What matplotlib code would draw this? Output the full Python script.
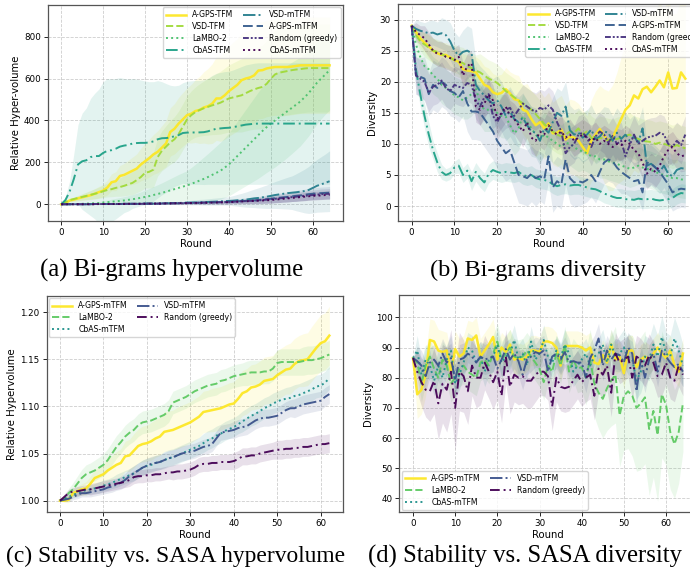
import numpy as np
import matplotlib
matplotlib.use("Agg")
import matplotlib.pyplot as plt
from matplotlib import cm

# ---------------- (a) Bi-grams hypervolume, rounds 0..64
a_names = ["A-GPS-TFM", "VSD-TFM", "LaMBO-2", "CbAS-TFM",
           "VSD-mTFM", "A-GPS-mTFM", "Random (greedy)", "CbAS-mTFM"]
a_agps_tfm = [0, 5, 18, 22, 28, 33, 38, 43, 50, 58,
              65, 80, 105, 110, 135, 140, 150, 160, 170, 190,
              205, 220, 238, 250, 270, 290, 345, 360, 385, 405,
              425, 432, 445, 450, 462, 468, 480, 505, 505, 520,
              540, 555, 570, 592, 600, 605, 615, 638, 640, 648,
              652, 655, 655, 655, 655, 657, 660, 663, 663, 663,
              663, 663, 663, 663, 663]
a_vsd_tfm = [0, 10, 20, 25, 30, 35, 40, 45, 50, 55,
             62, 68, 72, 78, 82, 88, 95, 102, 115, 130,
             150, 155, 165, 225, 255, 275, 295, 310, 335, 370,
             405, 425, 440, 450, 458, 465, 472, 478, 485, 495,
             505, 510, 515, 520, 530, 540, 548, 555, 560, 575,
             600, 620, 628, 632, 636, 640, 643, 645, 648, 650,
             650, 650, 650, 650, 650]
a_lambo = [0, 0, 0, 1, 1, 2, 3, 4, 5, 6,
           8, 10, 12, 14, 16, 18, 21, 24, 27, 31,
           35, 39, 44, 49, 54, 60, 66, 72, 78, 84,
           90, 97, 105, 113, 121, 130, 140, 150, 160, 175,
           190, 210, 230, 250, 270, 290, 310, 330, 350, 368,
           385, 400, 415, 430, 445, 460, 475, 490, 510, 530,
           555, 580, 600, 620, 640]
a_cbas_tfm = [0, 20, 60, 120, 190, 205, 210, 225, 230, 230,
              245, 255, 258, 265, 275, 280, 283, 290, 292, 293,
              293, 295, 300, 310, 315, 316, 318, 325, 330, 340,
              342, 342, 343, 343, 344, 348, 355, 360, 362, 364,
              365, 368, 372, 376, 380, 382, 384, 385, 385, 385,
              385, 385, 385, 385, 385, 385, 385, 385, 385, 385,
              385, 385, 385, 385, 385]
a_vsd_mtfm = [0, 0, 0, 0, 0, 0, 0, 1, 1, 1,
              1, 1, 1, 1, 2, 2, 2, 2, 2, 3,
              3, 3, 3, 4, 4, 5, 5, 6, 6, 7,
              8, 8, 9, 10, 10, 11, 12, 13, 14, 15,
              16, 17, 19, 20, 22, 25, 28, 30, 33, 36,
              40, 44, 47, 50, 53, 55, 57, 60, 63, 68,
              78, 88, 95, 102, 110]
a_agps_mtfm = [0, 0, 0, 0, 0, 0, 0, 0, 1, 1,
               1, 1, 1, 1, 1, 2, 2, 2, 2, 2,
               3, 3, 3, 3, 4, 4, 5, 5, 5, 6,
               6, 7, 7, 8, 8, 9, 9, 10, 10, 11,
               12, 13, 14, 15, 16, 17, 18, 20, 22, 24,
               26, 29, 31, 33, 35, 38, 40, 42, 45, 48,
               50, 52, 53, 54, 55]
a_random = [0, 0, 0, 0, 0, 0, 0, 0, 1, 1,
            1, 1, 1, 1, 1, 2, 2, 2, 2, 2,
            3, 3, 3, 3, 4, 4, 4, 5, 5, 5,
            6, 6, 7, 7, 8, 8, 9, 9, 10, 10,
            11, 12, 13, 14, 15, 16, 17, 18, 20, 22,
            24, 26, 28, 30, 32, 34, 36, 38, 40, 42,
            44, 46, 48, 49, 50]
a_cbas_mtfm = [0, 0, 0, 0, 0, 0, 0, 0, 0, 1,
               1, 1, 1, 1, 1, 1, 2, 2, 2, 2,
               2, 3, 3, 3, 3, 4, 4, 4, 5, 5,
               5, 6, 6, 6, 7, 7, 8, 8, 9, 9,
               10, 11, 12, 13, 14, 15, 16, 17, 18, 19,
               20, 22, 24, 26, 28, 30, 32, 34, 36, 38,
               40, 41, 42, 44, 45]
a_sd = [
    [0, 3, 6, 9, 12, 15, 18, 21, 24, 27,
     30, 35, 40, 45, 50, 55, 60, 65, 70, 78,
     85, 90, 95, 100, 105, 110, 115, 120, 125, 128,
     130, 140, 150, 160, 170, 180, 190, 200, 205, 210,
     215, 218, 220, 222, 224, 226, 228, 230, 230, 230,
     230, 230, 230, 230, 230, 230, 230, 230, 230, 230,
     230, 230, 230, 230, 230],
    [0, 3, 6, 9, 12, 15, 18, 21, 24, 27,
     30, 33, 36, 40, 44, 48, 52, 56, 60, 66,
     72, 78, 84, 90, 95, 100, 104, 108, 110, 110,
     112, 116, 120, 125, 130, 135, 140, 145, 150, 155,
     160, 165, 170, 175, 180, 185, 190, 195, 200, 205,
     208, 210, 210, 210, 210, 210, 210, 210, 210, 210,
     210, 210, 210, 210, 210],
    [0, 0, 1, 1, 2, 3, 4, 5, 6, 7,
     8, 10, 12, 14, 16, 18, 20, 22, 25, 28,
     32, 36, 40, 44, 48, 52, 56, 60, 64, 67,
     70, 78, 86, 95, 104, 112, 120, 128, 136, 143,
     150, 158, 166, 174, 182, 190, 198, 206, 212, 216,
     220, 222, 222, 222, 220, 218, 215, 212, 208, 204,
     200, 196, 192, 190, 190],
    [0, 15, 50, 120, 190, 230, 250, 280, 300, 320,
     340, 345, 340, 335, 330, 320, 315, 310, 305, 300,
     295, 290, 285, 280, 270, 260, 250, 240, 238, 240,
     245, 247, 248, 248, 250, 253, 260, 265, 267, 269,
     270, 273, 277, 281, 285, 287, 289, 290, 290, 290,
     290, 290, 290, 290, 290, 290, 290, 290, 290, 290,
     290, 290, 290, 290, 290],
    [0, 0, 0, 0, 0, 0, 0, 1, 1, 1,
     1, 1, 1, 1, 2, 2, 2, 2, 2, 3,
     3, 3, 3, 4, 4, 5, 6, 7, 8, 9,
     10, 11, 12, 13, 14, 15, 16, 17, 18, 19,
     20, 24, 28, 32, 36, 40, 44, 48, 52, 56,
     60, 64, 68, 72, 76, 80, 88, 96, 104, 112,
     120, 126, 132, 138, 145],
    [0, 0, 0, 0, 0, 0, 0, 0, 1, 1,
     1, 1, 1, 1, 1, 2, 2, 2, 2, 2,
     2, 3, 3, 3, 3, 4, 4, 4, 5, 5,
     5, 6, 6, 6, 7, 7, 8, 8, 9, 9,
     10, 11, 12, 13, 14, 15, 16, 17, 18, 19,
     20, 21, 22, 23, 24, 25, 26, 26, 27, 27,
     28, 28, 29, 29, 30],
    [0, 0, 0, 0, 0, 0, 0, 0, 1, 1,
     1, 1, 1, 1, 1, 1, 2, 2, 2, 2,
     2, 2, 3, 3, 3, 3, 3, 4, 4, 4,
     5, 5, 5, 6, 6, 6, 7, 7, 8, 8,
     9, 9, 10, 11, 12, 13, 14, 15, 16, 17,
     18, 19, 20, 20, 21, 21, 22, 22, 23, 23,
     24, 24, 25, 25, 25],
    [0, 0, 0, 0, 0, 0, 0, 0, 0, 1,
     1, 1, 1, 1, 1, 1, 1, 1, 2, 2,
     2, 2, 2, 2, 3, 3, 3, 3, 3, 4,
     4, 4, 5, 5, 5, 6, 6, 6, 7, 7,
     8, 8, 9, 9, 10, 11, 12, 12, 13, 14,
     15, 15, 16, 16, 17, 17, 18, 18, 19, 19,
     19, 20, 20, 20, 20],
]

# ---------------- (b) Bi-grams diversity, rounds 0..64
b_agps_tfm = [29, 28, 27, 26.3, 25.7, 25, 24.6, 24.3, 24.3, 23.9,
              23.5, 23.2, 22, 21.8, 21.7, 21.5, 20.5, 19.5, 19.2, 18.3,
              18, 18.2, 18.8, 18.1, 17.2, 17, 15.5, 15.2, 14, 13,
              13.5, 12.5, 13.3, 11.7, 11.8, 12.3, 10.7, 11.2, 11, 10.5,
              9.5, 8.5, 10.5, 11.5, 12.4, 11.3, 10.5, 11, 12.5, 14,
              15.5, 16.2, 17.8, 17.3, 18.8, 19.2, 18.3, 19.2, 20.2, 19.1,
              21.5, 18.9, 19, 21.5, 20.5]
b_vsd_tfm = [29, 27.5, 26.5, 26, 25.5, 25, 24.8, 24.5, 24, 23.8,
             23.5, 23.2, 23, 22.5, 22.2, 21.8, 21.5, 21, 20.5, 20.2,
             19.8, 19.2, 18.5, 18, 17.5, 17, 16.5, 16, 15.5, 14.8,
             14, 13.2, 12.5, 12, 11.5, 11.2, 11.5, 12, 11.8, 12.5,
             11.5, 12, 11, 10.5, 11, 10.8, 10.6, 10.5, 10.8, 11,
             11.3, 11.5, 11, 10.8, 10.5, 10.4, 10.3, 10, 10.2, 10,
             9.8, 9.5, 9.8, 9.5, 9.3]
b_lambo = [29, 26, 24, 22.5, 22, 21, 20.5, 19.5, 19, 18.5,
           17.8, 17.5, 17, 17.5, 18, 19, 16.5, 15.5, 15.5, 15.5,
           15, 14.5, 14.4, 13, 11.7, 12.5, 14.5, 13.5, 12.5, 11.5,
           10.7, 11.5, 11, 10.5, 10, 9.5, 10.2, 10, 9.5, 9,
           8.8, 8.5, 8, 8, 7.5, 7.5, 7.2, 7, 6.8, 6.5,
           6.3, 6, 6.2, 6.5, 6.2, 6, 5.8, 5.5, 5.2, 5,
           4.8, 4.5, 4.5, 4.3, 4.2]
b_cbas_tfm = [29, 22, 18, 14.5, 11.5, 9, 7, 5.5, 5, 5.3,
              6.2, 6.5, 5, 5.7, 4, 5.5, 4.5, 3.8, 5.2, 5.8,
              5.5, 5.3, 5.5, 5.4, 5.3, 5.5, 5, 4.8, 5, 4.5,
              4.3, 4.2, 4, 3.5, 3.2, 3.4, 3.5, 3.3, 3.4, 3.4,
              3.2, 3, 2.8, 2.7, 2.4, 2, 1.8, 1.5, 1.3, 1.3,
              1.1, 1.1, 1, 1.2, 1.1, 1.1, 1.2, 1, 0.9, 1,
              1.1, 1.3, 1.8, 2.1, 2]
b_vsd_mtfm = [29, 28.5, 28.2, 28, 27.8, 27.9, 27.6, 27.8, 27.5, 26.5,
              25, 24.2, 24.8, 25, 24.6, 19.5, 18.5, 17.8, 17, 16.5,
              17, 16, 14.5, 15.2, 14, 13.5, 14.2, 13, 12, 11.8,
              10.5, 12.5, 11.8, 13.5, 15, 14.5, 16, 12.2, 11.5, 11.8,
              11, 11.5, 12.3, 10.8, 11.2, 12, 11.8, 10.5, 11.8, 10.8,
              11.5, 10.5, 11.2, 10.2, 12.5, 6.5, 6.8, 6.2, 5.5, 6.5,
              5.2, 4.8, 5.8, 6.1, 6]
b_agps_mtfm = [29, 21, 20.8, 20.5, 18, 19.5, 19, 20, 19.5, 18.5,
               18.2, 17.5, 18.5, 16.5, 15.2, 15.2, 15, 14, 13, 12,
               10.5, 9.5, 8.5, 9, 7, 5, 4.8, 4.5, 5.2, 4.5,
               4.8, 4.3, 8, 3, 4, 3.5, 7.5, 4.5, 3.8, 4,
               3.8, 4.2, 5, 4, 5.5, 7, 7.5, 7.2, 6.2, 5.5,
               5, 4.5, 4, 4.2, 2.2, 7, 6.8, 6.2, 5.5, 4.5,
               3.5, 2.2, 2.6, 2.8, 2.7]
b_random = [29, 21, 20.5, 20, 18.2, 19.2, 19.5, 20.2, 19, 18.5,
            19.5, 19.2, 19, 19.8, 19.5, 17, 16, 17.5, 18, 14.5,
            13.5, 14.8, 15.5, 15.8, 14.5, 15.5, 16.5, 16, 15.5, 15.2,
            15.8, 15.5, 16.2, 15.5, 13.5, 12, 8.5, 9.5, 10, 11.5,
            11.8, 11, 9.5, 11.2, 12, 11.5, 10.2, 11.3, 10, 10.5,
            8, 9.8, 11.5, 10, 10.5, 11, 11.2, 11.3, 11.8, 11.5,
            10, 9.5, 10.5, 9.8, 11.5]
b_cbas_mtfm = [29, 28, 27.5, 27, 26, 25, 24.5, 24.5, 24, 23.8,
               23.5, 24, 21, 22.5, 23, 16, 15.5, 16.5, 18, 17,
               14, 15, 16, 14.5, 14, 13, 12, 13.5, 11, 10.5,
               12, 11.5, 13, 12, 11.5, 12, 11, 11.5, 10.5, 11,
               11.5, 11, 10.5, 11, 10, 10.5, 10, 9.5, 10, 9.8,
               10.5, 10, 9, 8.5, 7, 5.2, 6, 5.5, 6.5, 8,
               9, 9.5, 8.5, 8, 8.2]
b_sd = [
    [0, 1, 1.5, 1.5, 2, 2, 2, 2, 2, 2,
     2, 2, 2.5, 2.5, 2.5, 2.5, 3, 3, 3, 3,
     3, 3, 3.5, 3.5, 4, 4, 4, 4.5, 4.5, 5,
     5, 5, 5, 5, 5.5, 5.5, 5.5, 6, 6, 6,
     6, 6, 6.5, 7, 7, 7.5, 8, 8.5, 9, 10,
     11, 11.5, 12, 12, 12.5, 12.5, 12.5, 12.5, 12.5, 12.5,
     12, 12, 12, 12, 12],
    [0, 1, 1.5, 2, 2, 2, 2, 2, 2, 2,
     2.5, 2.5, 2.5, 2.5, 2.5, 2.5, 3, 3, 3, 3,
     3, 3, 3, 3, 3, 3, 3, 3, 3, 3,
     3, 3, 3, 3, 3, 3, 3, 3, 3, 3,
     3.5, 3.5, 3.5, 3.5, 3.5, 3.5, 3.5, 3.5, 3.5, 3.5,
     3.5, 3.5, 3.5, 3.5, 3.5, 3.5, 3.5, 3.5, 3.5, 3.5,
     3.5, 3.5, 3.5, 3.5, 3.5],
    [0, 2, 3, 3, 3, 3, 3, 3, 3, 3,
     3, 3, 3, 3.5, 3.5, 3.5, 3.5, 3.5, 3.5, 3.5,
     3.5, 3.5, 3.5, 3.5, 3.5, 3.5, 3.5, 3.5, 3.5, 3.5,
     3.5, 3.5, 3.5, 3.5, 3.5, 3.5, 3.5, 3.5, 3.5, 3.5,
     3, 3, 3, 3, 3, 3, 3, 3, 3, 3,
     3, 3, 3, 3, 3, 3, 3, 3, 3, 3,
     3, 3, 3, 3, 3],
    [0, 2, 2, 2, 2, 1.5, 1.5, 1.2, 1, 1,
     1, 1.2, 1.2, 1.2, 1.5, 1.5, 1.5, 1.5, 1.5, 1.5,
     1.5, 1.5, 1.5, 1.5, 1.5, 1.5, 1.5, 1.5, 1.5, 1.5,
     1.5, 1.5, 1.5, 1.5, 1.5, 1.5, 1.5, 1.5, 1.5, 1.5,
     1.5, 1.5, 1.5, 1.5, 1.5, 1.5, 1.5, 1.5, 1.5, 1.5,
     1.5, 1.5, 1.5, 1.5, 1.5, 1.5, 1.5, 1.5, 1.5, 1.5,
     1.5, 1.5, 1.5, 1.5, 1.5],
    [0, 1.5, 1.5, 1.5, 2, 2, 2, 2.5, 2.5, 3,
     3, 3, 3.5, 4, 4, 4, 4, 4, 4, 4,
     4, 4, 4, 4, 4, 4, 4, 4, 4, 4,
     4, 4, 4, 4, 4, 4, 4, 4, 4, 4,
     4, 4, 4, 4, 4, 4, 4, 4, 4, 4,
     3.5, 3.5, 3.5, 3.5, 3.5, 3.5, 3.5, 3.5, 3.5, 3.5,
     3.5, 3.5, 3.5, 3.5, 3.5],
    [0, 3, 3, 3.5, 3.5, 4, 4, 4, 4, 4,
     4, 4, 4, 4.5, 4.5, 4.5, 4.5, 4.5, 4.5, 4.5,
     4.5, 4.5, 4.5, 4.5, 4.5, 4.5, 4.5, 4.5, 4.5, 4.5,
     4, 4, 4, 4, 4, 4, 4, 4, 4, 4,
     3.5, 3.5, 3.5, 3.5, 3.5, 3.5, 3.5, 3.5, 3.5, 3.5,
     3, 3, 3, 3, 3, 3, 3, 3, 3, 3,
     3, 3, 3, 3, 3],
    [0, 3, 3, 3, 3, 3, 3, 3, 3, 3,
     3, 3, 3, 3, 3, 3, 3, 3, 3, 3,
     3, 3, 3, 3, 3, 3, 3, 3, 3, 3,
     3, 3, 3, 3, 3, 3, 3, 3, 3, 3,
     3, 3, 3, 3, 3, 3, 3, 3, 3, 3,
     3, 3, 3, 3, 3, 3, 3, 3, 3, 3,
     3, 3, 3, 3, 3],
    [0, 1.5, 1.5, 2, 2, 2, 2, 2, 2, 2,
     2, 2, 2, 2, 2, 2.5, 2.5, 2.5, 2.5, 2.5,
     2.5, 2.5, 2.5, 2.5, 2.5, 2.5, 2.5, 2.5, 2.5, 2.5,
     2.5, 2.5, 2.5, 2.5, 2.5, 2.5, 2.5, 2.5, 2.5, 2.5,
     2.5, 2.5, 2.5, 2.5, 2.5, 2.5, 2.5, 2.5, 2.5, 2.5,
     2.5, 2.5, 2.5, 2.5, 2.5, 2.5, 2.5, 2.5, 2.5, 2.5,
     2.5, 2.5, 2.5, 2.5, 2.5],
]

# ---------------- (c) Stability vs. SASA hypervolume, rounds 0..62
c_names = ["A-GPS-mTFM", "LaMBO-2", "CbAS-mTFM", "VSD-mTFM", "Random (greedy)"]
c_agps = [1.000, 1.000, 1.001, 1.008, 1.010, 1.012, 1.013, 1.018, 1.024, 1.026,
          1.028, 1.032, 1.035, 1.038, 1.040, 1.047, 1.048, 1.053, 1.058, 1.060,
          1.061, 1.063, 1.066, 1.068, 1.073, 1.074, 1.075, 1.077, 1.079, 1.081,
          1.083, 1.086, 1.089, 1.094, 1.095, 1.096, 1.097, 1.098, 1.100, 1.102,
          1.103, 1.108, 1.114, 1.116, 1.120, 1.121, 1.123, 1.127, 1.128, 1.129,
          1.133, 1.136, 1.139, 1.140, 1.145, 1.148, 1.149, 1.150, 1.156, 1.162,
          1.167, 1.169, 1.175]
c_lambo = [1.000, 1.002, 1.008, 1.012, 1.018, 1.024, 1.028, 1.030, 1.032, 1.035,
           1.038, 1.043, 1.050, 1.057, 1.062, 1.068, 1.072, 1.075, 1.080, 1.083,
           1.084, 1.085, 1.087, 1.089, 1.091, 1.095, 1.104, 1.106, 1.108, 1.110,
           1.113, 1.116, 1.118, 1.120, 1.122, 1.123, 1.124, 1.127, 1.128, 1.130,
           1.132, 1.133, 1.134, 1.135, 1.136, 1.136, 1.136, 1.137, 1.137, 1.140,
           1.146, 1.147, 1.147, 1.147, 1.147, 1.147, 1.148, 1.149, 1.149, 1.150,
           1.151, 1.153, 1.155]
c_cbas = [1.000, 1.002, 1.004, 1.006, 1.008, 1.010, 1.011, 1.012, 1.013, 1.014,
          1.016, 1.017, 1.019, 1.021, 1.023, 1.025, 1.027, 1.029, 1.032, 1.035,
          1.037, 1.038, 1.040, 1.041, 1.043, 1.045, 1.046, 1.048, 1.050, 1.052,
          1.054, 1.056, 1.058, 1.061, 1.064, 1.066, 1.069, 1.071, 1.074, 1.076,
          1.078, 1.081, 1.084, 1.087, 1.090, 1.092, 1.095, 1.098, 1.100, 1.103,
          1.105, 1.107, 1.108, 1.109, 1.111, 1.112, 1.114, 1.116, 1.118, 1.121,
          1.122, 1.125, 1.130]
c_vsd = [1.000, 1.001, 1.002, 1.004, 1.006, 1.008, 1.008, 1.009, 1.010, 1.011,
         1.012, 1.014, 1.015, 1.017, 1.019, 1.022, 1.026, 1.029, 1.032, 1.035,
         1.037, 1.039, 1.040, 1.041, 1.043, 1.045, 1.046, 1.048, 1.050, 1.051,
         1.052, 1.053, 1.055, 1.057, 1.058, 1.060, 1.066, 1.072, 1.073, 1.074,
         1.075, 1.077, 1.078, 1.079, 1.082, 1.085, 1.087, 1.088, 1.088, 1.089,
         1.090, 1.093, 1.096, 1.098, 1.098, 1.100, 1.102, 1.103, 1.104, 1.105,
         1.106, 1.110, 1.113]
c_random = [1.000, 1.004, 1.008, 1.010, 1.010, 1.011, 1.012, 1.012, 1.013, 1.014,
            1.015, 1.016, 1.017, 1.018, 1.019, 1.020, 1.022, 1.025, 1.026, 1.026,
            1.027, 1.027, 1.028, 1.028, 1.029, 1.030, 1.030, 1.031, 1.031, 1.032,
            1.033, 1.035, 1.038, 1.039, 1.039, 1.040, 1.040, 1.041, 1.041, 1.041,
            1.042, 1.044, 1.047, 1.047, 1.048, 1.048, 1.050, 1.051, 1.052, 1.053,
            1.054, 1.054, 1.055, 1.055, 1.056, 1.056, 1.057, 1.057, 1.058, 1.059,
            1.060, 1.060, 1.061]
c_sd = [
    [0, .002, .003, .004, .005, .006, .007, .008, .009, .010,
     .011, .012, .013, .014, .015, .016, .017, .018, .018, .019,
     .019, .020, .020, .020, .021, .021, .021, .022, .022, .022,
     .022, .022, .022, .022, .022, .023, .023, .023, .023, .023,
     .023, .023, .024, .024, .024, .024, .025, .025, .025, .025,
     .026, .026, .026, .027, .027, .027, .028, .028, .029, .029,
     .030, .030, .031],
    [0, .003, .005, .007, .008, .009, .010, .010, .011, .011,
     .012, .012, .012, .012, .012, .012, .012, .012, .012, .012,
     .012, .012, .012, .012, .012, .012, .012, .012, .012, .012,
     .012, .012, .012, .012, .012, .012, .012, .012, .012, .012,
     .012, .012, .012, .013, .013, .013, .013, .013, .013, .013,
     .014, .014, .014, .014, .014, .014, .015, .015, .015, .015,
     .015, .015, .015],
    [0, .002, .003, .003, .004, .004, .005, .005, .005, .006,
     .006, .006, .006, .007, .007, .007, .007, .008, .008, .008,
     .008, .008, .008, .008, .009, .009, .009, .009, .009, .009,
     .009, .009, .009, .010, .010, .010, .010, .010, .010, .010,
     .010, .010, .011, .011, .011, .011, .011, .011, .011, .011,
     .011, .011, .012, .012, .012, .012, .012, .012, .012, .012,
     .012, .012, .012],
    [0, .002, .003, .003, .004, .004, .004, .005, .005, .005,
     .005, .006, .006, .006, .007, .007, .008, .008, .008, .008,
     .008, .008, .008, .008, .008, .008, .008, .008, .008, .008,
     .008, .008, .008, .008, .008, .008, .008, .008, .008, .008,
     .009, .009, .009, .009, .009, .009, .009, .009, .009, .009,
     .009, .009, .009, .009, .010, .010, .010, .010, .010, .010,
     .010, .010, .010],
    [0, .003, .004, .004, .005, .005, .005, .006, .006, .006,
     .006, .006, .006, .006, .006, .006, .007, .007, .007, .007,
     .007, .007, .007, .007, .007, .007, .008, .008, .008, .008,
     .008, .008, .008, .008, .008, .008, .008, .008, .008, .008,
     .009, .009, .009, .009, .009, .009, .009, .009, .009, .009,
     .010, .010, .010, .010, .010, .010, .010, .010, .010, .010,
     .010, .010, .010],
]

# ---------------- (d) Stability vs. SASA diversity, rounds 0..64
d_agps = [86.5, 74.5, 76, 81, 92.5, 92, 89, 88.5, 89, 82,
          89.5, 87, 88, 93, 92.5, 94, 87, 89, 91, 93.5,
          86, 90, 88.5, 91, 86, 86.5, 86, 87, 89, 89,
          88.5, 92, 92, 91.5, 90, 84, 90.5, 90.5, 90.5, 90.5,
          90, 89, 90, 85, 84.5, 87.5, 85, 91, 86, 87,
          81.5, 89, 89, 83.5, 86, 87, 86, 88, 90, 88,
          86.5, 89, 84, 82, 88]
d_lambo = [86.5, 85, 78, 84, 87, 83, 80, 86, 84, 78,
           80, 83, 84, 82, 81, 80, 85, 86, 84, 88,
           92, 86, 88, 90, 87, 86.5, 87, 89, 87, 85,
           83, 78.5, 84, 82, 88, 84, 91, 82, 86, 83,
           83.5, 80, 86, 78, 75, 73, 76.5, 79, 81, 67.5,
           74, 75.5, 74, 70, 71.5, 73.5, 63, 69, 61, 74.5,
           71, 62, 58, 62, 71.5]
d_cbas = [86.5, 89, 81, 86, 84, 79, 84, 80, 86, 89,
          78, 81, 85, 90, 89, 85, 87, 82, 86, 87,
          91, 85, 87, 88, 92.5, 86, 88, 84, 92, 86,
          88, 92.5, 87, 85, 89, 86.5, 91, 88, 82, 84,
          86, 88, 84, 87, 88, 91, 85, 91, 87, 88,
          90, 87, 86, 79, 82, 87, 86, 91, 87, 93.5,
          88, 87, 93, 89, 84]
d_vsd = [86.5, 85.5, 84, 80.5, 85, 86, 84, 88, 85, 86.5,
         79, 86, 86.5, 88, 87, 85, 87, 86, 86.5, 87,
         83, 86, 89.5, 86, 88, 85.5, 81, 86, 87, 88.5,
         88, 89, 82, 87, 88, 86, 88.5, 85, 85.5, 85,
         85, 80, 86.5, 89, 93, 84, 89, 86, 88, 87.5,
         85, 90, 88, 75.5, 86, 80, 86, 88, 82, 89,
         87, 85, 83.5, 84.5, 82]
d_random = [86.5, 82, 78.5, 76, 75.5, 79, 71.5, 78, 76, 82,
            70, 82, 80.5, 75.5, 84, 80, 80, 85, 82, 78.5,
            82, 74, 87, 77, 81, 80, 80.5, 79, 79, 81,
            82, 82, 80.5, 70.5, 80, 77, 76.5, 77, 79, 81,
            78.5, 80, 81, 74, 83, 81, 84, 75, 88, 85,
            86, 87, 80, 87, 86, 84, 87.5, 85, 80.5, 81,
            85, 80, 79, 84, 81]
d_sd = [
    [0, 8, 8, 7, 7, 7, 7, 7, 6, 6,
     6, 6, 6, 6, 6, 6, 6, 6, 6, 6,
     5, 5, 5, 5, 5, 5, 5, 5, 5, 5,
     5, 5, 5, 5, 5, 5, 5, 5, 5, 5,
     5, 5, 5, 5, 5, 5, 5, 5, 5, 5,
     5, 5, 5, 5, 5, 5, 5, 5, 5, 5,
     5, 5, 5, 5, 5],
    [0, 5, 6, 6, 6, 6, 6, 6, 6, 6,
     6, 6, 6, 6, 6, 6, 6, 6, 6, 6,
     6, 6, 6, 6, 6, 6, 6, 6, 6, 6,
     6, 6, 6, 6, 6, 6, 6, 7, 7, 8,
     8, 9, 10, 11, 12, 13, 14, 15, 16, 17,
     18, 19, 20, 21, 22, 22, 22, 22, 22, 21,
     20, 19, 18, 17, 16],
    [0, 5, 5, 5, 5, 5, 5, 5, 5, 5,
     5, 5, 5, 5, 5, 5, 5, 5, 5, 5,
     5, 5, 5, 5, 5, 5, 5, 5, 5, 5,
     5, 5, 5, 5, 5, 5, 5, 5, 5, 5,
     5, 5, 5, 5, 5, 5, 5, 5, 5, 6,
     6, 6, 6, 6, 7, 7, 7, 7, 7, 7,
     7, 7, 7, 7, 7],
    [0, 5, 5, 5, 5, 5, 5, 5, 5, 5,
     5, 5, 5, 5, 5, 5, 5, 5, 5, 5,
     5, 5, 5, 5, 5, 5, 5, 5, 5, 5,
     5, 5, 5, 5, 5, 5, 5, 5, 5, 5,
     5, 5, 5, 5, 5, 5, 5, 5, 5, 5,
     5, 5, 5, 5, 5, 5, 5, 5, 5, 5,
     5, 5, 5, 5, 5],
    [0, 7, 8, 9, 10, 11, 12, 13, 14, 14,
     14, 13, 12, 11, 10, 10, 9, 9, 9, 9,
     9, 9, 9, 9, 9, 9, 9, 9, 9, 9,
     8, 8, 8, 8, 8, 8, 8, 8, 8, 8,
     8, 8, 8, 8, 8, 8, 8, 8, 7, 7,
     7, 7, 7, 7, 7, 7, 7, 7, 7, 7,
     7, 7, 7, 7, 7],
]

# styles (viridis, A-GPS first = yellow)
styles8 = ["-", "--", ":", (0, (6, 2, 1, 2)), "-.", (0, (5, 2)),
           (0, (3, 1, 1, 1, 1, 1)), ":"]
styles5 = ["-", "--", ":", "-.", (0, (5, 2, 1, 2))]
col8 = cm.viridis(np.linspace(1, 0, 8))
col5 = cm.viridis(np.linspace(1, 0, 5))

fig = plt.figure(figsize=(6.9, 5.73), dpi=100)
W, H = 690.0, 573.0


def add_ax(l, t, r, b):
    return fig.add_axes([l / W, 1 - b / H, (r - l) / W, (b - t) / H])


def draw(ax, series, sds, names, cols, lss):
    for y, sd, name, c, ls in zip(series, sds, names, cols, lss):
        y = np.asarray(y, float)
        sd = np.asarray(sd, float)
        x = np.arange(len(y))
        ax.fill_between(x, y - sd, y + sd, color=c, alpha=0.12, lw=0)
        lw = 1.8 if ls == "-" else 1.4
        ax.plot(x, y, color=c, ls=ls, lw=lw, label=name, alpha=0.95)


def style(ax, ylabel):
    ax.grid(True, ls="--", color="#b8b8b8", lw=0.6, alpha=0.7)
    ax.set_axisbelow(True)
    ax.tick_params(labelsize=6.3, length=3, width=0.6, pad=2)
    for s in ax.spines.values():
        s.set_color("#555555")
        s.set_linewidth(0.9)
    ax.set_xlabel("Round", fontsize=7.3, labelpad=1.5)
    ax.set_ylabel(ylabel, fontsize=7.3, labelpad=2)


leg_kw = dict(fontsize=5.6, borderaxespad=0.3, columnspacing=1.2,
              handlelength=2.6, labelspacing=0.35, framealpha=0.8)

ax_a = add_ax(47.8, 5, 343, 221)
draw(ax_a, [a_agps_tfm, a_vsd_tfm, a_lambo, a_cbas_tfm, a_vsd_mtfm,
            a_agps_mtfm, a_random, a_cbas_mtfm], a_sd, a_names, col8, styles8)
ax_a.set_ylim(-80, 951)
ax_a.set_yticks([0, 200, 400, 600, 800])
ax_a.set_xticks([0, 10, 20, 30, 40, 50, 60])
style(ax_a, "Relative Hyper-volume")
ax_a.legend(loc="upper right", ncol=2, **leg_kw)

ax_b = add_ax(398, 4, 699, 221)
draw(ax_b, [b_agps_tfm, b_vsd_tfm, b_lambo, b_cbas_tfm, b_vsd_mtfm,
            b_agps_mtfm, b_random, b_cbas_mtfm], b_sd, a_names, col8, styles8)
ax_b.set_ylim(-2.4, 32.5)
ax_b.set_yticks([0, 5, 10, 15, 20, 25, 30])
ax_b.set_xticks([0, 10, 20, 30, 40, 50, 60])
style(ax_b, "Diversity")
ax_b.legend(loc="upper left", bbox_to_anchor=(0.415, 1.0), ncol=2, **leg_kw)

ax_c = add_ax(46.5, 296, 342.8, 512)
draw(ax_c, [c_agps, c_lambo, c_cbas, c_vsd, c_random], c_sd, c_names,
     col5, styles5)
ax_c.set_ylim(0.988, 1.217)
ax_c.set_yticks([1.00, 1.05, 1.10, 1.15, 1.20])
ax_c.set_yticklabels(["1.00", "1.05", "1.10", "1.15", "1.20"])
ax_c.set_xticks([0, 10, 20, 30, 40, 50, 60])
style(ax_c, "Relative Hypervolume")
ax_c.legend(loc="upper left", ncol=2, **leg_kw)

ax_d = add_ax(399.5, 295, 696.4, 512)
draw(ax_d, [d_agps, d_lambo, d_cbas, d_vsd, d_random], d_sd, c_names,
     col5, styles5)
ax_d.set_ylim(35.5, 107.4)
ax_d.set_yticks([40, 50, 60, 70, 80, 90, 100])
ax_d.set_xticks([0, 10, 20, 30, 40, 50, 60])
style(ax_d, "Diversity")
ax_d.legend(loc="lower left", ncol=2, **leg_kw)

captions = ["(a) Bi-grams hypervolume", "(b) Bi-grams diversity",
            "(c) Stability vs. SASA hypervolume", "(d) Stability vs. SASA diversity"]
cap_pos = [(172, 270), (538, 270), (176, 556), (525, 556)]
cap_size = [17.8, 17.5, 16.9, 17.8]
for txt, (cx, cy), fs in zip(captions, cap_pos, cap_size):
    fig.text(cx / W, 1 - cy / H, txt, ha="center", va="center",
             family="Liberation Serif", fontsize=fs)

fig.savefig("out.png", dpi=100)
